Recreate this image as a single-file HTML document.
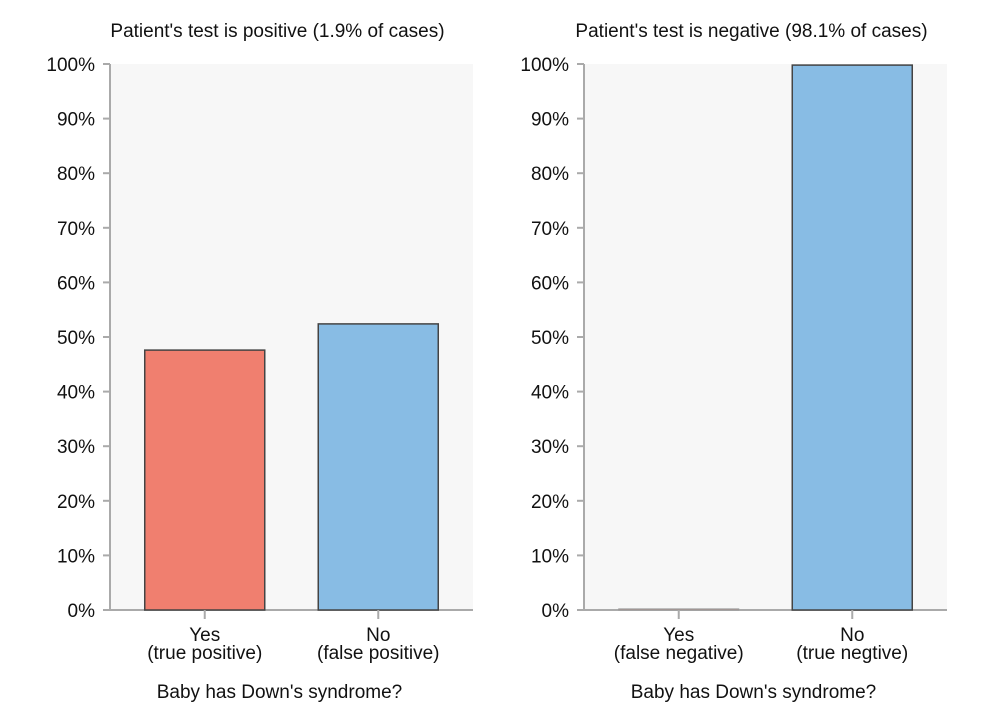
<!DOCTYPE html>
<html><head><meta charset="utf-8"><style>
body{margin:0;background:#fff;}
svg{display:block;font-family:"Liberation Sans",Arial,sans-serif;}
</style></head><body>
<svg id="chart" width="1000" height="719"></svg>
<script>
const panelTitles=["Patient's test is positive (1.9% of cases)","Patient's test is negative (98.1% of cases)"];
const catTop=[["Yes","No"],["Yes","No"]];
const catBottom=[["(true positive)","(false positive)"],["(false negative)","(true negtive)"]];
const values=[[47.6,52.4],[0.2,99.8]];
const colors=[["#f07f6f","#88bce4"],["#f07f6f","#88bce4"]];
const yTicks=[0,10,20,30,40,50,60,70,80,90,100];
const xTitle="Baby has Down's syndrome?";
const NS="http://www.w3.org/2000/svg";
const svg=document.getElementById('chart');
function mk(t,a,p){const e=document.createElementNS(NS,t);for(const k in a)e.setAttribute(k,a[k]);(p||svg).appendChild(e);return e;}
const panels=[{x0:110,x1:473},{x0:584,x1:947}];
const yTop=64,yBot=610;
const FS=19;
const y=v=>yBot-(yBot-yTop)*v/100;
panels.forEach((P,pi)=>{
  const g=mk('g',{});
  
  
  const bg=mk('rect',{x:P.x0+1,y:yTop,width:P.x1-P.x0-1,height:yBot-yTop,fill:'#f7f7f7'},g);
  
  
  const t=mk('text',{x:(P.x0+P.x1)/2-14,y:37,'text-anchor':'middle','font-size':FS,fill:'#111'},g);
  t.textContent=panelTitles[pi];
  
  
  mk('line',{x1:P.x0,x2:P.x0,y1:yTop,y2:yBot,stroke:'#aaa','stroke-width':2},g);
  mk('line',{x1:P.x0-6,x2:P.x1,y1:yBot,y2:yBot,stroke:'#aaa','stroke-width':2},g);
  yTicks.forEach(v=>{
    mk('line',{x1:P.x0-7,x2:P.x0,y1:y(v),y2:y(v),stroke:'#aaa','stroke-width':2},g);
    const l=mk('text',{x:P.x0-15,y:y(v)+7,'text-anchor':'end','font-size':FS,fill:'#111'},g);
    l.textContent=v+'%';
    
    
  });
  const w=P.x1-P.x0;
  const step=w*0.478, bw=120;
  const c0=P.x0+w/2-step/2;
  values[pi].forEach((v,i)=>{
    const cx=c0+i*step;
    const b=mk('rect',{x:cx-bw/2,y:y(v),width:bw,height:yBot-y(v),fill:colors[pi][i],stroke:v<1?'#999':'#444','stroke-width':v<1?1:1.5},g);
    
    
    mk('line',{x1:cx,x2:cx,y1:yBot,y2:yBot+9,stroke:'#aaa','stroke-width':2},g);
    const a=mk('text',{x:cx,y:641,'text-anchor':'middle','font-size':FS,fill:'#111'},g);
    a.textContent=catTop[pi][i];
    
    
    const b2=mk('text',{x:cx,y:659,'text-anchor':'middle','font-size':FS,fill:'#111'},g);
    b2.textContent=catBottom[pi][i];
    
    
  });
  const xt=mk('text',{x:(P.x0+P.x1)/2-12,y:698,'text-anchor':'middle','font-size':FS,fill:'#111'},g);
  xt.textContent=xTitle;
  
  
});
</script>
</body></html>
